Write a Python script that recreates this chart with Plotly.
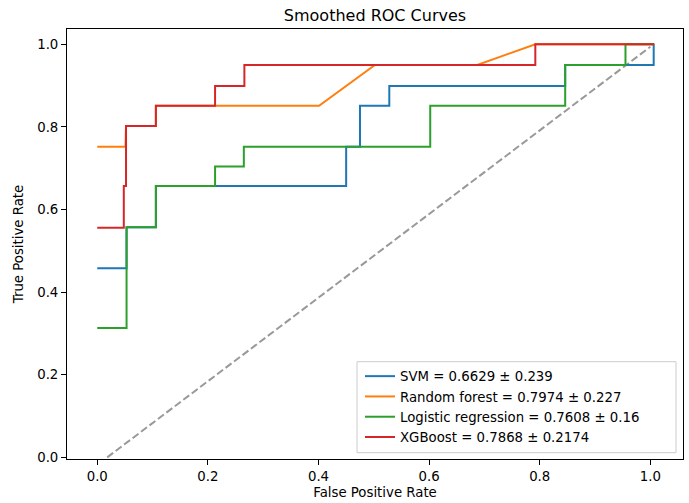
import plotly.graph_objects as go

# ---- data ----
svm_fpr = [0, 0.053, 0.053, 0.106, 0.106, 0.450, 0.450, 0.475, 0.475, 0.528, 0.528, 0.846, 0.846, 1.006, 1.006]
svm_tpr = [0.458, 0.458, 0.557, 0.557, 0.657, 0.657, 0.752, 0.752, 0.851, 0.851, 0.899, 0.899, 0.950, 0.950, 1.0]

rf_fpr = [0, 0.051, 0.052, 0.106, 0.106, 0.401, 0.502, 0.687, 0.792, 1.007]
rf_tpr = [0.752, 0.752, 0.802, 0.802, 0.851, 0.851, 0.950, 0.950, 1.0, 1.0]

lr_fpr = [0, 0.053, 0.053, 0.106, 0.106, 0.213, 0.213, 0.265, 0.265, 0.602, 0.602, 0.846, 0.846, 0.955, 0.955, 1.007]
lr_tpr = [0.313, 0.313, 0.557, 0.557, 0.657, 0.657, 0.704, 0.704, 0.752, 0.752, 0.851, 0.851, 0.950, 0.950, 1.0, 1.0]

xgb_fpr = [0, 0.048, 0.048, 0.052, 0.052, 0.106, 0.106, 0.213, 0.213, 0.266, 0.266, 0.792, 0.792, 1.007]
xgb_tpr = [0.556, 0.556, 0.657, 0.657, 0.802, 0.802, 0.851, 0.851, 0.899, 0.899, 0.950, 0.950, 1.0, 1.0]

chance_x = [0.018, 1.0]
chance_y = [0.0, 0.994]

names = ["SVM = 0.6629 ± 0.239",
         "Random forest = 0.7974 ± 0.227",
         "Logistic regression = 0.7608 ± 0.16",
         "XGBoost = 0.7868 ± 0.2174"]
colors = ["#1f77b4", "#ff7f0e", "#2ca02c", "#d62728"]
x_ticks = [0.0, 0.2, 0.4, 0.6, 0.8, 1.0]
y_ticks = [0.0, 0.2, 0.4, 0.6, 0.8, 1.0]

FONT = "DejaVu Sans"

fig = go.Figure()
fig.add_trace(go.Scatter(x=chance_x, y=chance_y, mode="lines", showlegend=False,
                         line=dict(color="rgba(128,128,128,0.8)", width=2, dash="7.4px,3.2px"),
                         hoverinfo="skip"))
series = [(svm_fpr, svm_tpr), (rf_fpr, rf_tpr), (lr_fpr, lr_tpr), (xgb_fpr, xgb_tpr)]
for (xs, ys), nm, c in zip(series, names, colors):
    fig.add_trace(go.Scatter(x=xs, y=ys, mode="lines", name=nm,
                             line=dict(color=c, width=2)))

axis_common = dict(showgrid=False, zeroline=False, showline=True, linecolor="black",
                   linewidth=1, mirror=True, ticks="outside", ticklen=5, tickwidth=1,
                   tickcolor="black", tickformat=".1f",
                   tickfont=dict(family=FONT, size=13.3, color="black"))

# legend frame (matplotlib-style box), in paper coordinates of the plot area
PL, PR, PT, PB = 67, 683, 29, 459
def px2paper_x(px):
    return (px - PL) / (PR - PL)
def px2paper_y(py):
    return (PB - py) / (PB - PT)

fig.update_layout(
    width=689, height=503, autosize=False,
    margin=dict(l=PL, r=689 - PR, t=PT, b=503 - PB),
    paper_bgcolor="white", plot_bgcolor="white",
    font=dict(family=FONT, size=13.3, color="black"),
    title=dict(text="Smoothed ROC Curves", x=0.5, xref="paper", xanchor="center",
               y=1 - 15 / 503, yref="container", yanchor="middle",
               font=dict(family=FONT, size=16, color="black")),
    xaxis=dict(range=[-0.0547, 1.059], tickvals=x_ticks,
               title=dict(text="False Positive Rate", standoff=4,
                          font=dict(family=FONT, size=13.3, color="black")),
               **axis_common),
    yaxis=dict(range=[-0.004, 1.037], tickvals=y_ticks,
               title=dict(text="True Positive Rate", standoff=10,
                          font=dict(family=FONT, size=13.3, color="black")),
               **axis_common),
    legend=dict(x=px2paper_x(360), y=px2paper_y(453), xanchor="left", yanchor="bottom",
                bgcolor="rgba(0,0,0,0)", borderwidth=0,
                font=dict(family=FONT, size=13.3, color="black")),
    shapes=[dict(type="rect", xref="paper", yref="paper", layer="below",
                 x0=px2paper_x(357), x1=px2paper_x(676),
                 y0=px2paper_y(452.7), y1=px2paper_y(361.7),
                 line=dict(color="#cccccc", width=1),
                 fillcolor="rgba(255,255,255,0.8)")],
    showlegend=True,
)

fig.write_html("out.html")
